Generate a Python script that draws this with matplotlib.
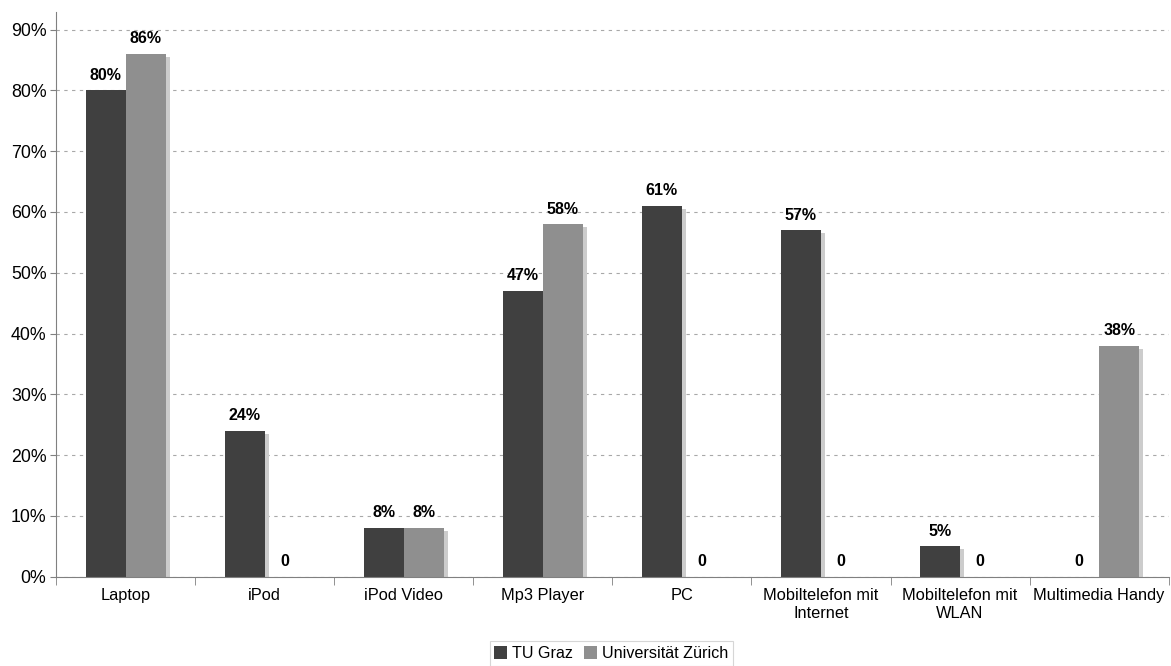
import numpy as np
import matplotlib
matplotlib.use("Agg")
import matplotlib.pyplot as plt
from matplotlib.ticker import PercentFormatter

categories = ["Laptop", "iPod", "iPod Video", "Mp3 Player", "PC",
              "Mobiltelefon mit\nInternet", "Mobiltelefon mit\nWLAN", "Multimedia Handy"]
tu_graz = [80, 24, 8, 47, 61, 57, 5, 0]
uni_zuerich = [86, 0, 8, 58, 0, 0, 0, 38]
series_names = ["TU Graz", "Universität Zürich"]

plt.rcParams['font.family'] = ['Liberation Sans', 'DejaVu Sans']

fig = plt.figure(figsize=(11.71, 6.66), dpi=100)
ax = fig.add_axes([0.048, 0.134, 0.95, 0.848])

x = np.arange(len(categories))
w = 0.288
colors = ["#404040", "#8f8f8f"]
shadow = "#cccccc"

# drop shadow: shifted a few pixels right and down
dx = 4 / 139.0
for vals, off in ((tu_graz, -w / 2), (uni_zuerich, w / 2)):
    v = np.array(vals, dtype=float)
    ax.bar(x + off + dx, np.maximum(v - 0.5, 0), w, color=shadow, zorder=1,
           align="center")

bars = []
for vals, off, c, name in ((tu_graz, -w / 2, colors[0], series_names[0]),
                           (uni_zuerich, w / 2, colors[1], series_names[1])):
    b = ax.bar(x + off, vals, w, color=c, zorder=2, label=name)
    bars.append(b)

for b, vals in zip(bars, (tu_graz, uni_zuerich)):
    for rect, v in zip(b, vals):
        txt = f"{v}%" if v else "0"
        ax.annotate(txt, (rect.get_x() + rect.get_width() / 2, v),
                    xytext=(0, 5.5), textcoords="offset points",
                    ha="center", va="bottom", fontsize=11.5, fontweight="bold")

ax.set_xlim(-0.5, len(categories) - 0.5)
ax.set_ylim(0, 92.9)
ax.set_yticks(np.arange(0, 91, 10))
ax.yaxis.set_major_formatter(PercentFormatter(decimals=0))
ax.set_xticks(x)
ax.set_xticklabels(categories, fontsize=11.8, linespacing=1.3)
ax.set_xticks(np.arange(-0.5, len(categories)), minor=True)
ax.tick_params(axis="x", which="major", length=0, pad=8)
ax.tick_params(axis="x", which="minor", length=6, color="#808080")
ax.tick_params(axis="y", length=4, color="#808080", labelsize=12.8, pad=3)

ax.grid(axis="y", color="#a8a8a8", linestyle=(0, (3, 4)), linewidth=0.8, zorder=0)
ax.set_axisbelow(True)
for s in ("top", "right"):
    ax.spines[s].set_visible(False)
for s in ("left", "bottom"):
    ax.spines[s].set_color("#808080")

leg = fig.legend(handles=bars, labels=series_names, loc="lower center",
                 bbox_to_anchor=(0.522, -0.012), ncol=2, fontsize=11.6, frameon=True,
                 fancybox=False, handlelength=0.8, handleheight=0.8,
                 handletextpad=0.3, columnspacing=0.7, borderpad=0.3)
leg.get_frame().set_edgecolor("#cccccc")
leg.get_frame().set_linewidth(0.8)

fig.savefig("out.png", dpi=100)
